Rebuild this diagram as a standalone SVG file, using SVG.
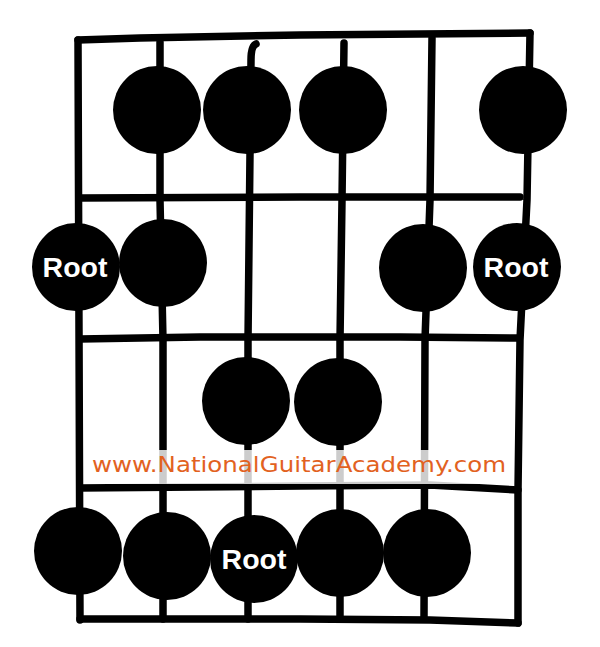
<svg xmlns="http://www.w3.org/2000/svg" width="600" height="647" viewBox="0 0 600 647">
<style>
.ln{fill:none;stroke:#000;stroke-width:7.5;stroke-linecap:round;stroke-linejoin:round}
.dot{fill:#000}
.root{fill:#fff;font-family:"Liberation Sans",Arial,sans-serif;font-weight:bold;font-size:28.5px;text-anchor:middle}
.wm{fill:#e2621f;font-family:"DejaVu Sans","Liberation Sans",sans-serif;font-size:21px}
</style>
<rect width="600" height="647" fill="#fff"/>
<g id="connectors">
<path class="ln" d="M78,40 L140,38 L300,35 L530,33"/>
<path class="ln" d="M78,40 L79,330 L80,620"/>
<path class="ln" d="M530,33 L527,200 L520,340 L518,490 L518,623"/>
<path class="ln" d="M80,619 L300,619 L430,620 L518,623"/>
<path class="ln" d="M80,198 L300,197 L520,197"/>
<path class="ln" d="M80,339 L200,337 L400,337 L518,338"/>
<path class="ln" d="M80,488 L300,486 L430,485 L518,490"/>
<path class="ln" d="M160,42 L160,200 L163,340 L163,619"/>
<path class="ln" d="M256,44 Q251,46 251,60 L248,340 L248,619"/>
<path class="ln" d="M344,43 L342,200 L340,340 L340,619"/>
<path class="ln" d="M432,38 L430,200 L425,340 L424,619"/>
</g>
<rect x="88" y="450" width="422" height="34" fill="#fff" opacity="0.8"/>
<text class="wm" x="92" y="472" textLength="414" lengthAdjust="spacingAndGlyphs">www.NationalGuitarAcademy.com</text>
<g id="n1"><circle class="dot" cx="157" cy="110" r="44"/></g>
<g id="n2"><circle class="dot" cx="247" cy="110" r="44"/></g>
<g id="n3"><circle class="dot" cx="343" cy="110" r="44"/></g>
<g id="n4"><circle class="dot" cx="523" cy="110" r="44"/></g>
<g id="n5"><circle class="dot" cx="76" cy="267" r="44"/><text class="root" x="75" y="277">Root</text></g>
<g id="n6"><circle class="dot" cx="163" cy="263" r="44"/></g>
<g id="n7"><circle class="dot" cx="423" cy="268" r="44"/></g>
<g id="n8"><circle class="dot" cx="517" cy="267" r="44"/><text class="root" x="516" y="277">Root</text></g>
<g id="n9"><circle class="dot" cx="246" cy="401" r="44"/></g>
<g id="n10"><circle class="dot" cx="338" cy="402" r="44"/></g>
<g id="n11"><circle class="dot" cx="78" cy="551" r="44"/></g>
<g id="n12"><circle class="dot" cx="167" cy="556" r="44"/></g>
<g id="n13"><circle class="dot" cx="254" cy="559" r="44"/><text class="root" x="254" y="569">Root</text></g>
<g id="n14"><circle class="dot" cx="340" cy="553" r="44"/></g>
<g id="n15"><circle class="dot" cx="427" cy="553" r="44"/></g>
</svg>
